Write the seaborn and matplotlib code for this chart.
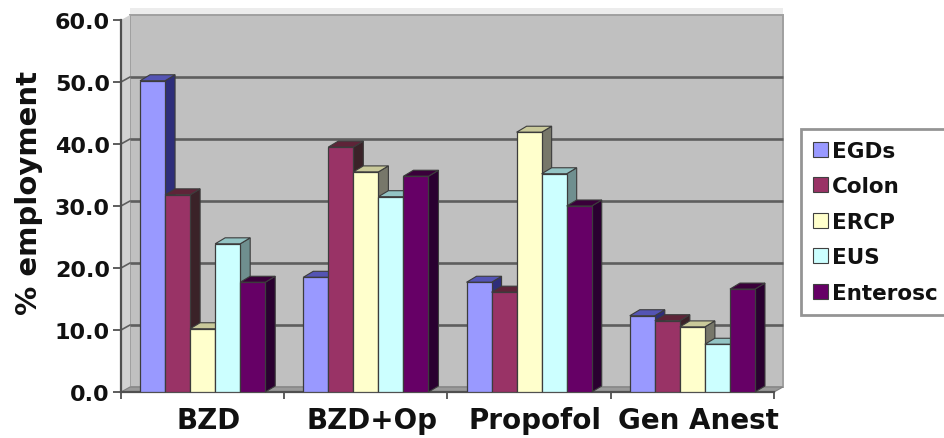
import numpy as np
import pandas as pd
import matplotlib
matplotlib.use("Agg")
import matplotlib.pyplot as plt
from matplotlib.patches import Polygon, Patch
from matplotlib.colors import to_hex
import seaborn as sns

# ---- data -------------------------------------------------------------
procedures = ["BZD", "BZD+Op", "Propofol", "Gen Anest"]
techniques = ["EGDs", "Colon", "ERCP", "EUS", "Enterosc"]
egds = [50.2, 18.5, 17.7, 12.3]
colon = [31.8, 39.5, 16.1, 11.5]
ercp = [10.2, 35.5, 41.9, 10.5]
eus = [23.9, 31.5, 35.2, 7.7]
enterosc = [17.7, 34.8, 30.0, 16.6]
y_ticks = [0, 10, 20, 30, 40, 50, 60]

# ---- styling ----------------------------------------------------------
front_colors = ["#9999ff", "#993366", "#ffffcc", "#ccffff", "#660066"]
top_colors = ["#5454b4", "#5e2438", "#c9c99a", "#93c4c4", "#3a003a"]
side_colors = ["#2e2e7a", "#3a2228", "#77776a", "#6f8f8f", "#2a0030"]
wall_color = "#c0c0c0"
side_wall_color = "#d2d2d2"
floor_color = "#9a9a9a"
grid_color = "#5e5e5e"
axis_color = "#505050"
edge_color = "#3c3c3c"

WALL_OFF = (9, 5)    # depth offset of the back wall, in pixels
BAR_OFF = (10, 6)    # depth offset of each column, in pixels

sns.set_theme(style="white")
plt.rcParams["font.family"] = ["DejaVu Sans"]
plt.rcParams["font.weight"] = "bold"

W, H = 944, 439
fig = plt.figure(figsize=(W / 100, H / 100), dpi=100)
fig.patch.set_facecolor("white")
left_px, right_px, base_px, top_px = 121, 774, 393, 21
ax = fig.add_axes([left_px / W, (H - base_px) / H,
                   (right_px - left_px) / W, (base_px - top_px) / H])

series = [egds, colon, ercp, eus, enterosc]
df = pd.DataFrame({
    "procedure": np.repeat(procedures, len(techniques)),
    "technique": techniques * len(procedures),
    "pct": [series[j][i] for i in range(len(procedures)) for j in range(len(techniques))],
})

sns.barplot(data=df, x="procedure", y="pct", hue="technique",
            order=procedures, hue_order=techniques, palette=front_colors,
            saturation=1, width=0.767, edgecolor=edge_color, linewidth=0.9,
            legend=False, ax=ax)
bars = list(ax.patches)

ax.set_xlim(-0.5, len(procedures) - 0.5)
ax.set_ylim(0, 60)
ax.patch.set_visible(False)
for name, sp in ax.spines.items():
    sp.set_visible(name in ("left", "bottom"))
    sp.set_color(axis_color)
    sp.set_linewidth(1.6)
    sp.set_zorder(1.5)


def shift(x, y, off):
    """Move a data point back by a pixel offset and return data coords."""
    p = ax.transData.transform((x, y)) + np.asarray(off, dtype=float)
    return tuple(ax.transData.inverted().transform(p))


xa, xb = ax.get_xlim()
ya, yb = ax.get_ylim()

# back wall, left wall and floor
back = [shift(xa, ya, WALL_OFF), shift(xb, ya, WALL_OFF),
        shift(xb, yb, WALL_OFF), shift(xa, yb, WALL_OFF)]
ax.add_patch(Polygon(back, closed=True, facecolor=wall_color,
                     edgecolor="#a0a0a0", linewidth=1.4, zorder=0.2, clip_on=False))
band = [shift(xa, yb, WALL_OFF), shift(xb, yb, WALL_OFF),
        shift(xb, yb, (WALL_OFF[0], WALL_OFF[1] + 7)),
        shift(xa, yb, (WALL_OFF[0], WALL_OFF[1] + 7))]
ax.add_patch(Polygon(band, closed=True, facecolor="#ececec", edgecolor="none",
                     zorder=0.1, clip_on=False))
left_wall = [(xa, ya), shift(xa, ya, WALL_OFF), shift(xa, yb, WALL_OFF), (xa, yb)]
ax.add_patch(Polygon(left_wall, closed=True, facecolor=side_wall_color,
                     edgecolor="none", zorder=0.3, clip_on=False))
floor = [(xa, ya), (xb, ya), shift(xb, ya, WALL_OFF), shift(xa, ya, WALL_OFF)]
ax.add_patch(Polygon(floor, closed=True, facecolor=floor_color,
                     edgecolor="#808080", linewidth=0.8, zorder=0.4, clip_on=False))

# gridlines on the back wall and across the left wall
for v in y_ticks[1:-1]:
    p0, p1 = shift(xa, v, WALL_OFF), shift(xb, v, WALL_OFF)
    ax.plot([p0[0], p1[0]], [p0[1], p1[1]], color=grid_color, lw=1.9,
            zorder=0.5, clip_on=False, solid_capstyle="butt")
    ax.plot([xa, p0[0]], [v, p0[1]], color=grid_color, lw=1.2,
            zorder=0.5, clip_on=False)

# columns: side and top faces behind each front face, left to right
order = sorted(bars, key=lambda b: b.get_x())
for k, bar in enumerate(order):
    idx = front_colors.index(to_hex(bar.get_facecolor()))
    x0 = bar.get_x()
    x1 = x0 + bar.get_width()
    h = bar.get_height()
    z = 2 + 0.01 * k
    side = [(x1, 0), (x1, h), shift(x1, h, BAR_OFF), shift(x1, 0, BAR_OFF)]
    top = [(x0, h), (x1, h), shift(x1, h, BAR_OFF), shift(x0, h, BAR_OFF)]
    ax.add_patch(Polygon(side, closed=True, facecolor=side_colors[idx],
                         edgecolor=edge_color, linewidth=0.8, zorder=z, clip_on=False))
    ax.add_patch(Polygon(top, closed=True, facecolor=top_colors[idx],
                         edgecolor=edge_color, linewidth=0.8, zorder=z + 0.001, clip_on=False))
    bar.set_zorder(z + 0.002)

# axes ticks and labels
ax.set_yticks(y_ticks, labels=[f"{v:.1f}" for v in y_ticks])
ax.tick_params(axis="y", direction="out", length=6, width=1.3, color=axis_color,
               pad=2, labelsize=16, labelcolor="#111111", left=True)
ax.set_xticks(range(len(procedures)), labels=[""] * len(procedures))
ax.set_xticks(np.arange(-0.5, len(procedures), 1), minor=True)
ax.tick_params(axis="x", which="major", length=0)
ax.tick_params(axis="x", which="minor", direction="out", length=5, width=1.3,
               color=axis_color, bottom=True)
ax.set_xlabel("")
ax.set_ylabel("")

for i, name in enumerate(procedures):
    pos = shift(i, 0, (6, -14))
    ax.text(pos[0], pos[1], name, ha="center", va="top", fontsize=20,
            fontweight="bold", color="#111111", clip_on=False)

fig.text(29 / W, 1 - 193 / H, "% employment", rotation=90, ha="center",
         va="center", fontsize=21, fontweight="bold", color="#111111")

handles = [Patch(facecolor=c, edgecolor="#404040", linewidth=0.8) for c in front_colors]
leg = fig.legend(handles, techniques, loc="upper left",
                 bbox_to_anchor=(801 / W, 1 - 130 / H), bbox_transform=fig.transFigure,
                 borderaxespad=0, frameon=True, fancybox=False, edgecolor="#7a7a7a",
                 facecolor="white", prop={"weight": "bold", "size": 15.5},
                 handlelength=0.7, handleheight=0.7, handletextpad=0.2,
                 labelspacing=0.72, borderpad=0.55)
leg.get_frame().set_linewidth(2)
for t in leg.get_texts():
    t.set_color("#111111")

fig.savefig("out.png", dpi=100)
